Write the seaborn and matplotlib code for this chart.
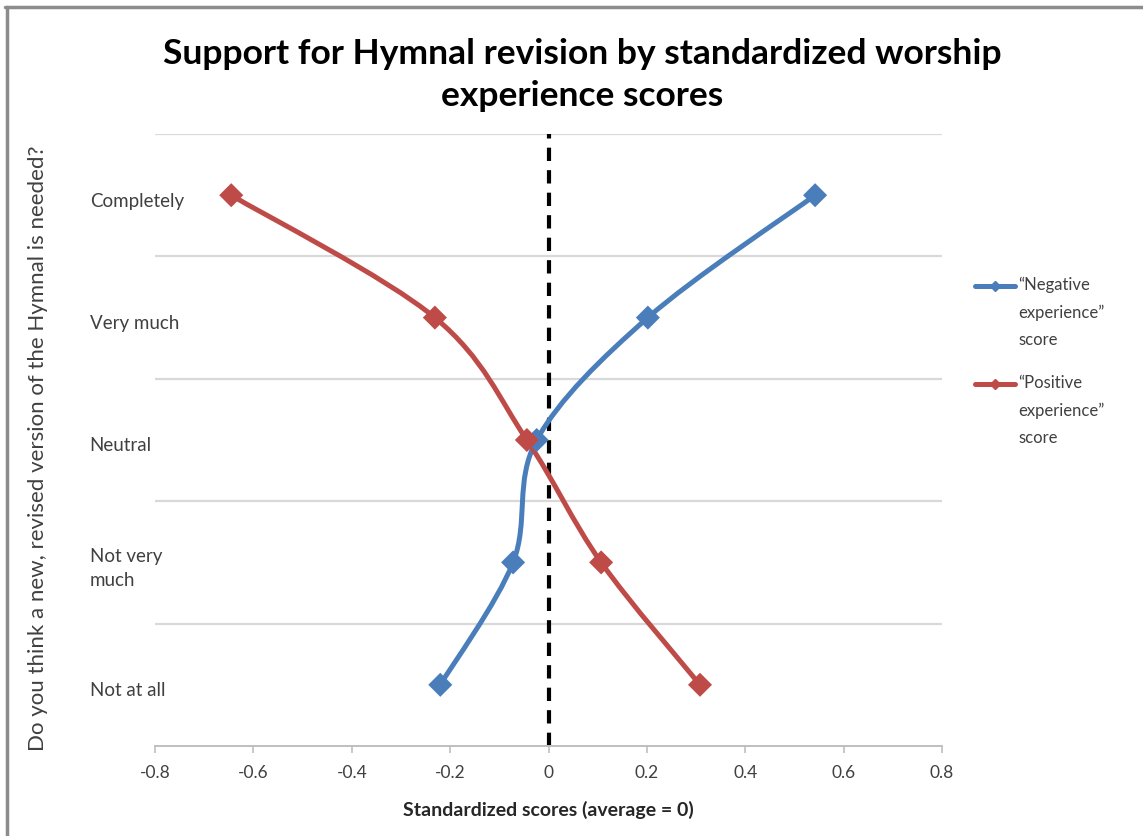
import numpy as np
import pandas as pd
import matplotlib
matplotlib.use("Agg")
import matplotlib.pyplot as plt
import matplotlib.transforms as mtransforms
from matplotlib.path import Path
from matplotlib.patches import PathPatch
from matplotlib.lines import Line2D
import seaborn as sns

# Response categories, listed top to bottom
categories = ["Completely", "Very much", "Neutral", "Not very\nmuch", "Not at all"]
negative_scores = [0.542, 0.202, -0.024, -0.072, -0.220]
positive_scores = [-0.645, -0.231, -0.044, 0.107, 0.308]
series_names = ["\u201cNegative\nexperience\u201d\nscore", "\u201cPositive\nexperience\u201d\nscore"]
x_ticks = [-0.8, -0.6, -0.4, -0.2, 0, 0.2, 0.4, 0.6, 0.8]

BLUE = "#4a7ebb"
RED = "#be4b48"

sns.set_theme(style="white")
plt.rcParams["font.family"] = ["Lato", "DejaVu Sans"]

n = len(categories)
ypos = [n - 0.5 - i for i in range(n)]  # band centres, top category highest

df = pd.DataFrame({
    "category": categories * 2,
    "y": ypos * 2,
    "score": negative_scores + positive_scores,
    "series": [series_names[0]] * n + [series_names[1]] * n,
})

fig = plt.figure(figsize=(11.43, 8.37), dpi=100)
ax = fig.add_axes([155 / 1143, 1 - 747 / 837, (942 - 155) / 1143, (747 - 135) / 837])


def smooth_path(xs, ys):
    """Bezier path through the points with Catmull-Rom style tangents."""
    pts = np.column_stack([xs, ys]).astype(float)
    ext = np.vstack([pts[0], pts, pts[-1]])
    verts = [pts[0]]
    codes = [Path.MOVETO]
    for i in range(len(pts) - 1):
        p0, p1, p2, p3 = ext[i], ext[i + 1], ext[i + 2], ext[i + 3]
        c1 = p1 + (p2 - p0) / 6.0
        c2 = p2 - (p3 - p1) / 6.0
        verts += [c1, c2, p2]
        codes += [Path.CURVE4] * 3
    return Path(verts, codes)


# Band separators
for b in range(1, n + 1):
    ax.axhline(b, color="#d9d9d9", lw=1.6, zorder=0)

# Zero reference line
ax.axvline(0, color="black", lw=3, ls=(0, (3.2, 2.2)), zorder=1)

palette = {series_names[0]: BLUE, series_names[1]: RED}
for name, vals in zip(series_names, [negative_scores, positive_scores]):
    patch = PathPatch(smooth_path(vals, ypos), facecolor="none", edgecolor=palette[name],
                      lw=3.6, capstyle="round", joinstyle="round", zorder=3)
    ax.add_patch(patch)

sns.scatterplot(data=df, x="score", y="y", hue="series", palette=palette, marker="D",
                s=150, edgecolor="none", legend=False, ax=ax, zorder=4)

ax.set_xlim(-0.8, 0.8)
ax.set_ylim(0, n)
ax.set_xticks(x_ticks)
ax.set_xticklabels(["0" if v == 0 else f"{v:g}" for v in x_ticks], fontsize=12.5, color="#404040")
ax.set_yticks(ypos)
ax.set_yticklabels(categories, fontsize=13.5, color="#404040", ha="left", va="center")
ax.tick_params(axis="y", length=0, pad=47)
ax.tick_params(axis="x", length=5, width=1.2, color="#bfbfbf", direction="out", pad=8, bottom=True)
# left-aligned category labels, sitting slightly below the band centres
shift = mtransforms.ScaledTranslation(0, -5 / 100, fig.dpi_scale_trans)
for lbl in ax.get_yticklabels():
    lbl.set_multialignment("left")
    lbl.set_linespacing(1.55)
    lbl.set_transform(lbl.get_transform() + shift)

for side in ["top", "right", "left"]:
    ax.spines[side].set_visible(False)
ax.spines["bottom"].set_color("#bfbfbf")
ax.spines["bottom"].set_linewidth(1.4)

ax.set_xlabel("Standardized scores (average = 0)", fontsize=14, fontweight="bold",
              color="#262626", labelpad=14)
ax.set_ylabel("")
fig.text(38 / 1143, 1 - 448 / 837, "Do you think a new, revised version of the Hymnal is needed?",
         rotation=90, ha="center", va="center", fontsize=16, color="#404040")

fig.text(582 / 1143, 1 - 75 / 837, "Support for Hymnal revision by standardized worship\nexperience scores",
         ha="center", va="center", fontsize=25.5, fontweight="bold", color="black", linespacing=1.42)

# Legend with the marker sample beside the first text line
for name, ytop in zip(series_names, [287, 385]):
    yf = 1 - ytop / 837
    fig.add_artist(Line2D([975 / 1143, 1015 / 1143], [yf, yf], color=palette[name], lw=3.6,
                          transform=fig.transFigure))
    fig.add_artist(Line2D([995 / 1143], [yf], color=palette[name], marker="D", markersize=5,
                          transform=fig.transFigure))
    fig.text(1018 / 1143, yf + 10 / 837, name, ha="left", va="top", fontsize=12, color="#404040",
             linespacing=1.85, transform=fig.transFigure)

# Chart frame edges
fig.add_artist(Line2D([5 / 1143, 1], [1 - 8 / 837, 1 - 8 / 837], color="#8c8c8c", lw=2.5,
                      transform=fig.transFigure))
fig.add_artist(Line2D([7 / 1143, 7 / 1143], [0, 1 - 8 / 837], color="#8c8c8c", lw=2.5,
                      transform=fig.transFigure))

fig.savefig("out.png", dpi=100, facecolor="white")
